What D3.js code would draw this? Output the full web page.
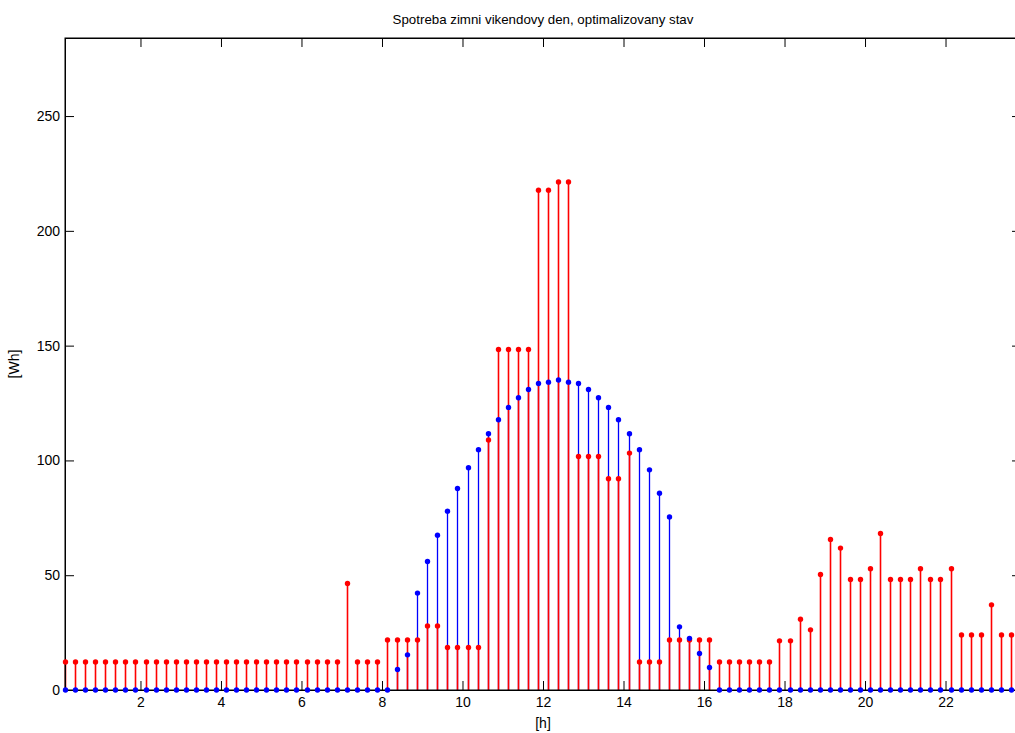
<!DOCTYPE html>
<html>
<head>
<meta charset="utf-8">
<script src="https://cdn.jsdelivr.net/npm/d3@7"></script>
<style>
  body { margin: 0; background: #fff; }
  svg { display: block; font-family: "Liberation Sans", Arial, sans-serif; }
  .axis path, .axis line { stroke: #000; }
  .axis text { fill: #000; font-size: 14px; }
</style>
</head>
<body>
<script>
// sample times [h], 15-minute steps (mid-interval)
var hours = [0.125, 0.375, 0.625, 0.875, 1.125, 1.375, 1.625, 1.875, 2.125, 2.375, 2.625, 2.875,
  3.125, 3.375, 3.625, 3.875, 4.125, 4.375, 4.625, 4.875, 5.125, 5.375, 5.625, 5.875,
  6.125, 6.375, 6.625, 6.875, 7.125, 7.375, 7.625, 7.875, 8.125, 8.375, 8.625, 8.875,
  9.125, 9.375, 9.625, 9.875, 10.125, 10.375, 10.625, 10.875, 11.125, 11.375, 11.625, 11.875,
  12.125, 12.375, 12.625, 12.875, 13.125, 13.375, 13.625, 13.875, 14.125, 14.375, 14.625, 14.875,
  15.125, 15.375, 15.625, 15.875, 16.125, 16.375, 16.625, 16.875, 17.125, 17.375, 17.625, 17.875,
  18.125, 18.375, 18.625, 18.875, 19.125, 19.375, 19.625, 19.875, 20.125, 20.375, 20.625, 20.875,
  21.125, 21.375, 21.625, 21.875, 22.125, 22.375, 22.625, 22.875, 23.125, 23.375, 23.625, 23.875]

// production (blue)
var vyroba = [0, 0, 0, 0, 0, 0, 0, 0, 0, 0, 0, 0,
  0, 0, 0, 0, 0, 0, 0, 0, 0, 0, 0, 0,
  0, 0, 0, 0, 0, 0, 0, 0, 0, 8.9, 15.3, 42.2,
  56.0, 67.4, 77.9, 87.8, 96.8, 104.7, 111.6, 117.7, 123.1, 127.3, 130.9, 133.5,
  134.1, 135.0, 134.1, 133.5, 130.9, 127.3, 123.1, 117.7, 111.6, 104.7, 95.9, 85.7,
  75.4, 27.5, 22.5, 15.9, 9.8, 0, 0, 0, 0, 0, 0, 0,
  0, 0, 0, 0, 0, 0, 0, 0, 0, 0, 0, 0,
  0, 0, 0, 0, 0, 0, 0, 0, 0, 0, 0, 0]

// consumption, optimized (red)
var spotreba = [12.2, 12.2, 12.2, 12.2, 12.2, 12.2, 12.2, 12.2, 12.2, 12.2, 12.2, 12.2,
  12.2, 12.2, 12.2, 12.2, 12.2, 12.2, 12.2, 12.2, 12.2, 12.2, 12.2, 12.2,
  12.2, 12.2, 12.2, 12.2, 46.4, 12.2, 12.2, 12.2, 21.8, 21.8, 21.8, 21.8,
  27.9, 27.9, 18.5, 18.5, 18.5, 18.5, 108.9, 148.3, 148.3, 148.3, 148.3, 217.7,
  217.7, 221.3, 221.3, 101.7, 101.7, 101.7, 92.0, 92.0, 103.2, 12.2, 12.2, 12.2,
  21.8, 21.8, 21.8, 21.8, 21.8, 12.2, 12.2, 12.2, 12.2, 12.2, 12.2, 21.4,
  21.4, 30.8, 26.2, 50.3, 65.6, 61.8, 48.1, 48.1, 52.8, 68.2, 48.1, 48.1,
  48.1, 52.8, 48.1, 48.1, 52.8, 24.0, 24.0, 24.0, 37.1, 24.0, 24.0, 24.0]

var xTicks = [2, 4, 6, 8, 10, 12, 14, 16, 18, 20, 22]
var yTicks = [0, 50, 100, 150, 200, 250]

const W = 1015, H = 733
const mLeft = 65, mTop = 38, mRight = 1021, mBottom = 690

const svg = d3.select('body').append('svg').attr('width', W).attr('height', H)

const x = d3.scaleLinear().domain([0.125, 23.875]).range([mLeft, mRight])
const y = d3.scaleLinear().domain([0, 284]).range([mBottom, mTop])
// stem x snapped to pixel centre so the red stems fully cover the blue ones
const sx = (h) => Math.round(x(h)) + 0.5

const data = hours.map((h, i) => ({ h: h, b: vyroba[i], r: spotreba[i] }))

// stems: blue first, red over it
svg.append('g').selectAll('line')
	.data(data)
	.enter().append('line')
		.attr('x1', (d) => sx(d.h)).attr('x2', (d) => sx(d.h))
		.attr('y1', y(0)).attr('y2', (d) => y(d.b))
		.attr('stroke', '#0000ff').attr('stroke-width', 1.3)

svg.append('g').selectAll('line')
	.data(data)
	.enter().append('line')
		.attr('x1', (d) => sx(d.h)).attr('x2', (d) => sx(d.h))
		.attr('y1', y(0)).attr('y2', (d) => y(d.r))
		.attr('stroke', '#ff0000').attr('stroke-width', 1.6)

// axes box
svg.append('rect')
	.attr('x', mLeft).attr('y', mTop)
	.attr('width', mRight - mLeft).attr('height', mBottom - mTop)
	.attr('fill', 'none').attr('stroke', '#000')

svg.append('g').attr('class', 'axis')
	.attr('transform', 'translate(0,' + mBottom + ')')
	.call(d3.axisBottom(x).tickValues(xTicks).tickSize(-9).tickPadding(7).tickFormat(d3.format('d')))

svg.append('g').attr('class', 'axis')
	.attr('transform', 'translate(0,' + mTop + ')')
	.call(d3.axisTop(x).tickValues(xTicks).tickSize(-9).tickFormat(''))

svg.append('g').attr('class', 'axis')
	.attr('transform', 'translate(' + mLeft + ',0)')
	.call(d3.axisLeft(y).tickValues(yTicks).tickSize(-9).tickPadding(5).tickFormat(d3.format('d')))

svg.append('g').attr('class', 'axis')
	.attr('transform', 'translate(' + mRight + ',0)')
	.call(d3.axisRight(y).tickValues(yTicks).tickSize(-9).tickFormat(''))

// markers
svg.append('g').selectAll('circle')
	.data(data)
	.enter().append('circle')
		.attr('cx', (d) => sx(d.h)).attr('cy', (d) => y(d.r))
		.attr('r', 2.7).attr('fill', '#ff0000')

svg.append('g').selectAll('circle')
	.data(data)
	.enter().append('circle')
		.attr('cx', (d) => sx(d.h)).attr('cy', (d) => y(d.b))
		.attr('r', 2.7).attr('fill', '#0000ff')

// labels
svg.append('text')
	.attr('x', (mLeft + mRight) / 2).attr('y', 24)
	.attr('text-anchor', 'middle').attr('font-size', 13.3)
	.text('Spotreba zimni vikendovy den, optimalizovany stav')

svg.append('text')
	.attr('x', (mLeft + mRight) / 2).attr('y', 728)
	.attr('text-anchor', 'middle').attr('font-size', 14)
	.text('[h]')

svg.append('text')
	.attr('transform', 'translate(19,' + ((mTop + mBottom) / 2) + ') rotate(-90)')
	.attr('text-anchor', 'middle').attr('font-size', 14)
	.text('[Wh]')
</script>
</body>
</html>
